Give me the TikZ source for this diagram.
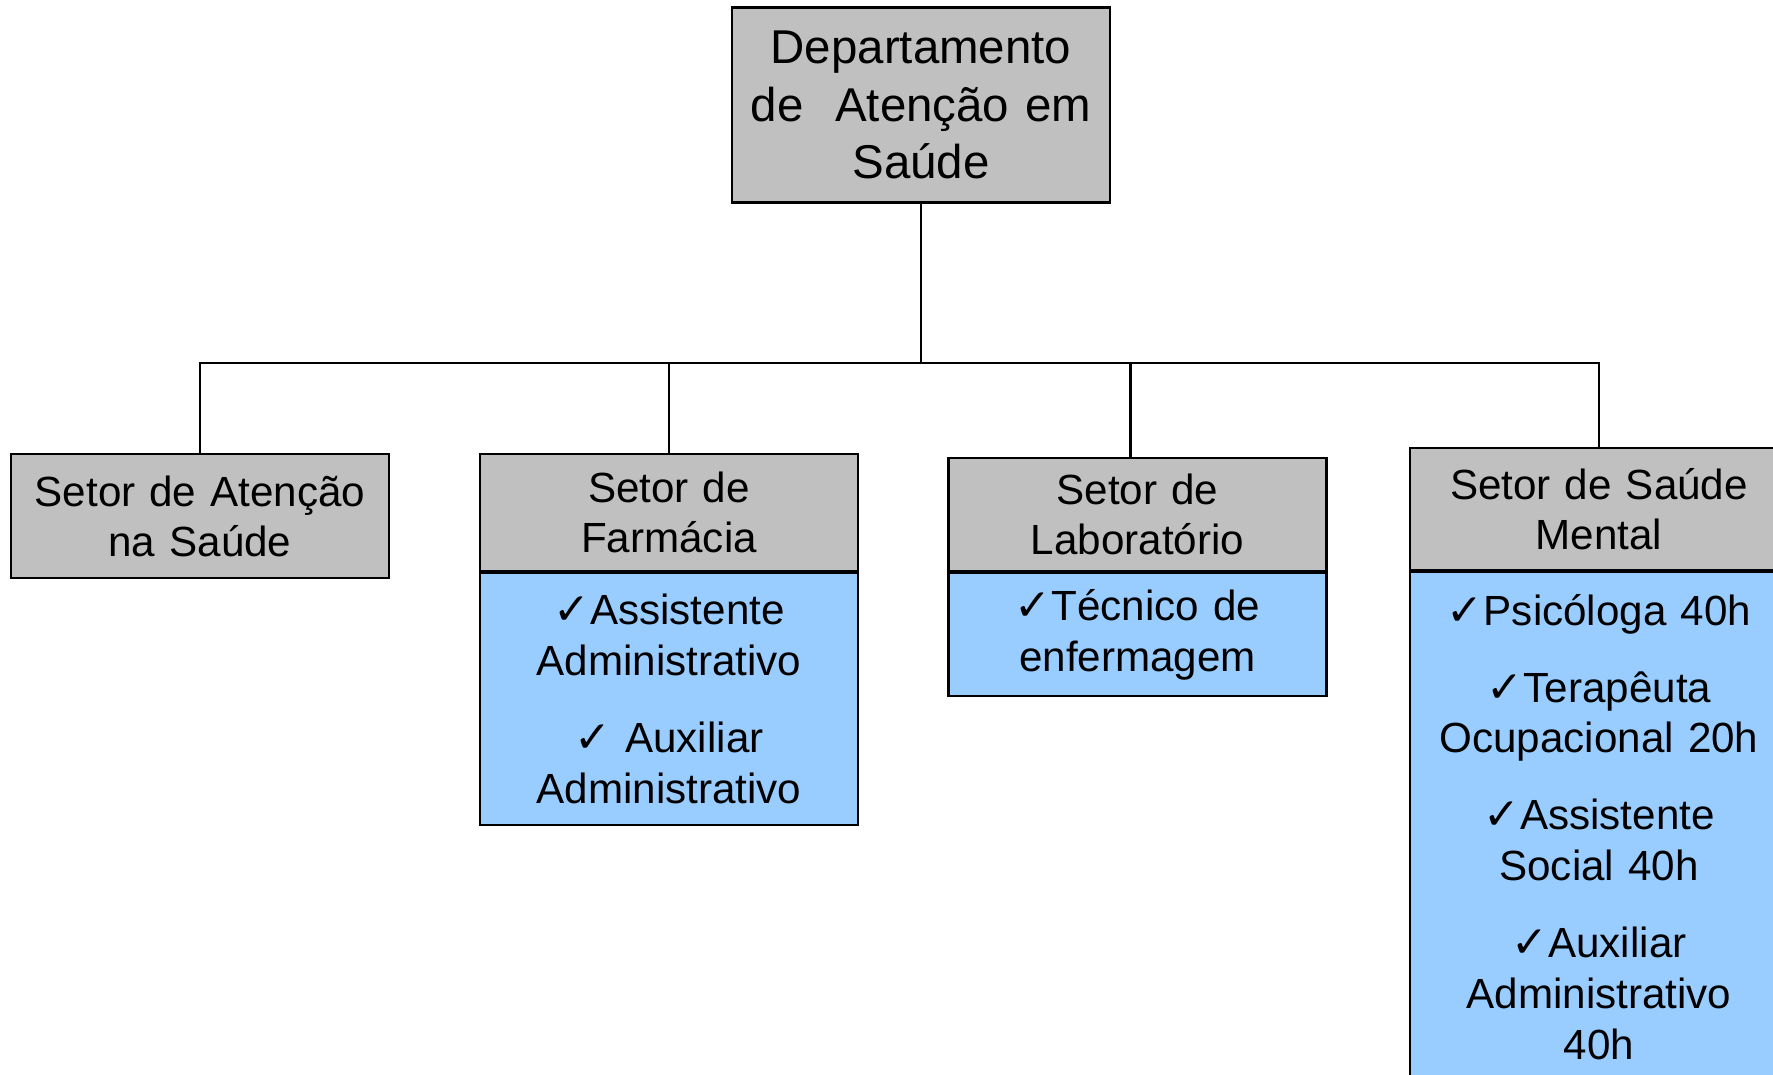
\documentclass[tikz,border=0pt]{standalone}
\usepackage{fontspec}
\setmainfont{Liberation Sans}
\newfontfamily\symbfont{DejaVu Sans}
\usepackage{tikz}
\usetikzlibrary{positioning}
\definecolor{boxgray}{HTML}{C0C0C0}
\definecolor{staffblue}{HTML}{99CCFF}
\tikzset{
    sector/.style args={#1}{draw, fill=boxgray, line width=0.6pt, text width=3.6cm, inner xsep=0.09cm, inner ysep=0pt, align=center, minimum height=#1, font=\fontsize{12}{14.2}\selectfont},
    staff/.style args={#1}{draw, fill=staffblue, line width=0.6pt, text width=3.6cm, inner xsep=0.09cm, inner ysep=0pt, align=center, minimum height=#1, font=\fontsize{12}{14.5}\selectfont}
}
\newcommand{\chk}{{\symbfont\fontsize{12.5}{14.5}\selectfont ✓}}

\begin{document}
\begin{tikzpicture}[line width=0.6pt]
\useasboundingbox (0,0) rectangle (17.73,-10.74);
\clip (0,0) rectangle (17.73,-10.74);
% departamento
\node[sector=1.95cm, font=\fontsize{13.5}{16.4}\selectfont] (dep) at (9.21,-1.05) {Departamento\\ de\ \ Atenção em\\ Saúde};
% setores
\node[sector=1.24cm] (atn) at (2.00,-5.16) {Setor de Atenção\\ na Saúde};
\node[sector=1.17cm] (farm) at (6.69,-5.125) {Setor de\\ Farmácia};
\node[staff=2.52cm, below=0pt of farm] (farmstaff) {\chk Assistente\\ Administrativo\\[7.4pt] \chk\ Auxiliar\\ Administrativo};
\node[sector=1.13cm] (lab) at (11.375,-5.145) {Setor de\\ Laboratório};
\node[staff=1.23cm, below=0pt of lab] (labstaff) {\chk Técnico de\\ enfermagem};
\node[sector=1.22cm] (ment) at (15.99,-5.09) {Setor de Saúde\\ Mental};
\node[staff=5.1cm, below=0pt of ment] (mentstaff) {\chk Psicóloga 40h\\[7.4pt] \chk Terapêuta\\ Ocupacional 20h\\[7.4pt] \chk Assistente\\ Social 40h\\[7.4pt] \chk Auxiliar\\ Administrativo\\ 40h};
% ligacoes
\coordinate (hub) at (9.21,-3.63);
\draw (dep.south) -- (hub);
\foreach \n in {atn,farm,ment}
    \draw (hub) -| (\n.north);
\draw (hub) -| ([xshift=-0.07cm]lab.north);
\end{tikzpicture}
\end{document}
